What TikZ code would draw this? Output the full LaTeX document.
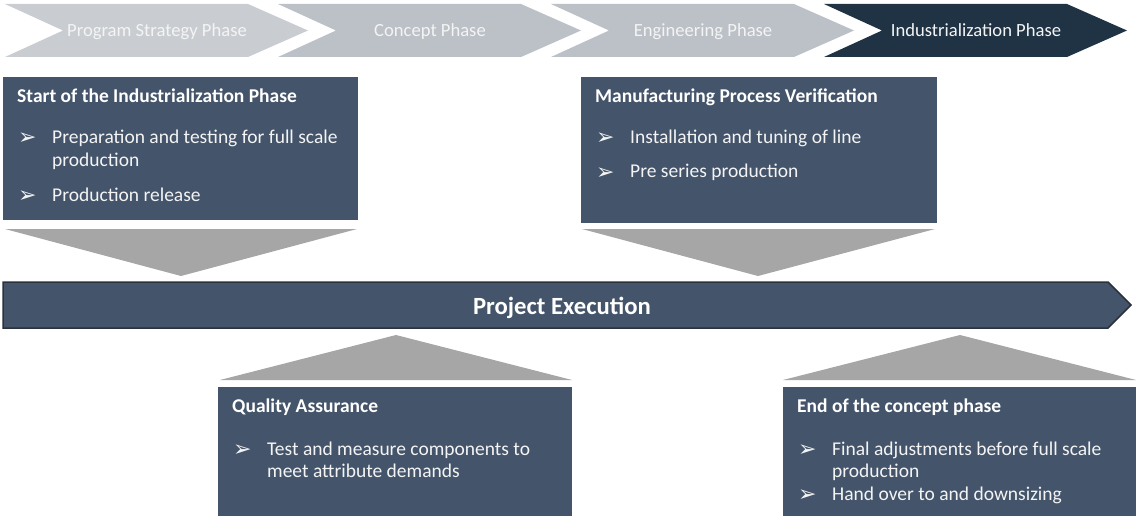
\documentclass[tikz,border=0pt]{standalone}
\usepackage{fontspec}
\setmainfont{Carlito}
\newfontfamily\symfont{DejaVu Sans}
\definecolor{boxc}{HTML}{44546A}
\definecolor{tric}{HTML}{A6A6A6}
\definecolor{chA}{HTML}{C9CDD2}
\definecolor{chB}{HTML}{BCC0C7}
\definecolor{chD}{HTML}{1F3344}
\definecolor{barline}{HTML}{2B323C}
\definecolor{txtw}{HTML}{F4F4F4}
\tikzset{
  infobox/.style={fill=boxc, inner sep=0pt, outer sep=0pt, anchor=north west},
  tri/.style={fill=tric},
  chevtext/.style={text=txtw, font=\fontsize{18.6}{22}\selectfont, inner sep=0pt, anchor=base},
  boxtitle/.style={text=white, font=\bfseries\fontsize{19.5}{23}\selectfont, inner sep=0pt, anchor=base west},
  boxline/.style={text=txtw, font=\fontsize{19.5}{23}\selectfont, inner sep=0pt, anchor=base west},
  bul/.style={text=txtw, font=\symfont\fontsize{22}{26}\selectfont, inner sep=0pt, anchor=base west},
  bartext/.style={text=white, font=\bfseries\fontsize{24.7}{29}\selectfont, inner sep=0pt, anchor=base},
}
\begin{document}
\begin{tikzpicture}[x=1pt, y=-1pt]
\useasboundingbox (0,0) rectangle (1136,516);
% phase chevrons
\foreach \i/\c/\t/\n in {0/chA/Program Strategy Phase/p1, 1/chB/Concept Phase/p2, 2/chB/Engineering Phase/p3, 3/chD/Industrialization Phase/p4}{
  \pgfmathsetmacro{\xo}{5+273*\i}
  \fill[\c] (\xo,4) -- (\xo+243,4) -- (\xo+303,30.5) -- (\xo+243,57) -- (\xo,57) -- (\xo+58,30.5) -- cycle;
  \node[chevtext] (\n) at (\xo+152,36.5) {\t};
}
% boxes
\node[infobox, minimum width=355pt, minimum height=143pt] (boxA) at (3,77) {};
\node[infobox, minimum width=356pt, minimum height=146pt] (boxB) at (581,77) {};
\node[infobox, minimum width=354pt, minimum height=129pt] (boxC) at (218,387) {};
\node[infobox, minimum width=353pt, minimum height=129pt] (boxD) at (783,387) {};
% triangles
\fill[tri] (5,229) -- (357,229) -- (181,276) -- cycle;
\fill[tri] (582,229) -- (935,229) -- (758,276) -- cycle;
\fill[tri] (220,380) -- (572,380) -- (396,335) -- cycle;
\fill[tri] (783,380) -- (1136,380) -- (960,335) -- cycle;
% execution bar
\filldraw[fill=boxc, draw=barline, line width=1.5pt] (3,282) -- (1108,282) -- (1131,305) -- (1108,328) -- (3,328) -- cycle;
\node[bartext] (exec) at (562,314) {Project Execution};
% box A text
\node[boxtitle] (tA) at (17,102.5) {Start of the Industrialization Phase};
\node[bul] (bA1) at (18,145) {➢};
\node[boxline] (lA1) at (52,144) {Preparation and testing for full scale};
\node[boxline] (lA1b) at (52,167) {production};
\node[bul] (bA2) at (18,203) {➢};
\node[boxline] (lA2) at (52,202) {Production release};
% box B text
\node[boxtitle] (tB) at (595,102.5) {Manufacturing Process Verification};
\node[bul] (bB1) at (596,145) {➢};
\node[boxline] (lB1) at (630,144) {Installation and tuning of line};
\node[bul] (bB2) at (596,179) {➢};
\node[boxline] (lB2) at (630,178) {Pre series production};
% box C text
\node[boxtitle] (tC) at (232,412.5) {Quality Assurance};
\node[bul] (bC1) at (233,456) {➢};
\node[boxline] (lC1) at (267,455) {Test and measure components to};
\node[boxline] (lC1b) at (267,477) {meet attribute demands};
% box D text
\node[boxtitle] (tD) at (797,412.5) {End of the concept phase};
\node[bul] (bD1) at (798,456) {➢};
\node[boxline] (lD1) at (832,455) {Final adjustments before full scale};
\node[boxline] (lD1b) at (832,477) {production};
\node[bul] (bD2) at (798,501) {➢};
\node[boxline] (lD2) at (832,500) {Hand over to and downsizing};
\end{tikzpicture}
\end{document}
